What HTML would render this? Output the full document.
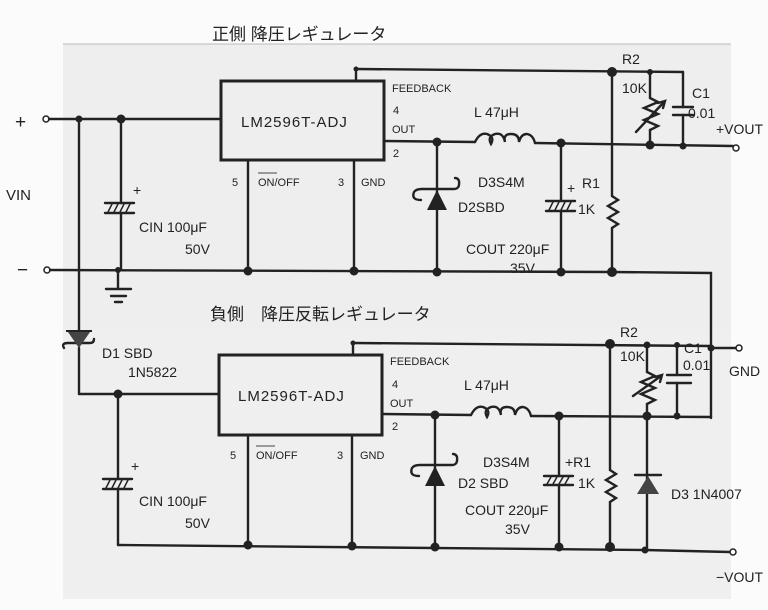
<!DOCTYPE html>
<html><head><meta charset="utf-8">
<style>
html,body{margin:0;padding:0;background:#fff;}
svg{display:block;}
text{font-family:"Liberation Sans","Noto Sans CJK JP",sans-serif;fill:#222;}
</style></head><body>
<svg width="768" height="610" viewBox="0 0 768 610" xmlns="http://www.w3.org/2000/svg">
<rect x="0" y="0" width="768" height="610" fill="#fbfbfb"/>
<rect x="63" y="44" width="668" height="285" fill="#eeeeee"/>
<rect x="63" y="329" width="668" height="270" fill="#efefef"/>
<line x1="63" y1="44" x2="731" y2="44" stroke="#bbb" stroke-width="1"/>

<g stroke="#222" stroke-width="2.4" fill="none" stroke-linecap="round">
<!-- TOP -->
<circle cx="46" cy="119" r="3" stroke-width="1.5" fill="#fff"/>
<line x1="49" y1="119" x2="220" y2="119"/>
<line x1="79" y1="119" x2="79" y2="336"/>
<line x1="121" y1="119" x2="121" y2="203"/>
<line x1="121" y1="213" x2="121" y2="270"/>
<line x1="105" y1="203" x2="134" y2="203"/><line x1="105" y1="213" x2="134" y2="213"/>
<line x1="108" y1="212" x2="112" y2="204" stroke-width="1.5"/><line x1="114" y1="212" x2="118" y2="204" stroke-width="1.5"/><line x1="120" y1="212" x2="124" y2="204" stroke-width="1.5"/><line x1="126" y1="212" x2="130" y2="204" stroke-width="1.5"/>
<circle cx="47" cy="270" r="3" stroke-width="1.5" fill="#fff"/>
<line x1="50" y1="270" x2="612" y2="272"/>
<line x1="612" y1="272" x2="711" y2="273"/>
<line x1="711" y1="273" x2="711" y2="418"/>
<line x1="118" y1="270" x2="118" y2="288"/>
<line x1="106" y1="289" x2="131" y2="289"/><line x1="111" y1="296" x2="126" y2="296"/><line x1="115" y1="302" x2="122" y2="302"/>
<rect x="221" y="81" width="163" height="79" stroke-width="3"/>
<line x1="356" y1="81" x2="356" y2="68"/>
<line x1="356" y1="69" x2="683" y2="72"/>
<line x1="683" y1="72" x2="683" y2="107"/><line x1="683" y1="115" x2="683" y2="146"/>
<line x1="673" y1="107" x2="693" y2="107"/><line x1="673" y1="115" x2="693" y2="115"/>
<line x1="384" y1="141" x2="475" y2="142"/>
<path d="M475 142 q5 -10 12 -8 q8 3 4 10 q-4 -7 4 -10 q8 -2 10 8 q-2 -8 6 -8 q8 0 8 8 q2 -8 8 -8 q6 1 8 9"/>
<line x1="535" y1="143" x2="733" y2="146"/>
<circle cx="736" cy="148" r="3" stroke-width="1.5" fill="#fff"/>
<line x1="248" y1="160" x2="248" y2="271"/>
<line x1="354" y1="160" x2="354" y2="271"/>
<line x1="437" y1="142" x2="437" y2="272"/>
<path d="M421 200 q-10 0 -7 -8 q2 -3 8 -3 l32 0 q6 0 5 -8 q-1 -3 -4 -3"/>
<line x1="561" y1="143" x2="561" y2="201"/><line x1="561" y1="211" x2="561" y2="272"/>
<line x1="546" y1="201" x2="575" y2="201"/><line x1="546" y1="211" x2="575" y2="211"/>
<line x1="549" y1="210" x2="553" y2="202" stroke-width="1.5"/><line x1="555" y1="210" x2="559" y2="202" stroke-width="1.5"/><line x1="561" y1="210" x2="565" y2="202" stroke-width="1.5"/><line x1="567" y1="210" x2="571" y2="202" stroke-width="1.5"/>
<line x1="612" y1="72" x2="612" y2="196"/>
<path d="M612 196 l6 4 l-10 6 l10 6 l-10 6 l10 6 l-6 4"/>
<line x1="612" y1="228" x2="612" y2="272"/>
<line x1="650" y1="72" x2="650" y2="98"/>
<path d="M650 98 l8 4 l-14 6 l14 6 l-14 6 l14 6 l-8 4"/>
<line x1="650" y1="130" x2="650" y2="145"/>
<line x1="636" y1="132" x2="664" y2="102"/>
<path d="M658 103 l7 -2 l-2 7"/>

<!-- BOTTOM -->
<line x1="79" y1="348" x2="79" y2="394"/>
<line x1="79" y1="394" x2="218" y2="394"/>
<line x1="118" y1="394" x2="118" y2="479"/><line x1="118" y1="489" x2="118" y2="545"/>
<line x1="103" y1="479" x2="132" y2="479"/><line x1="103" y1="489" x2="132" y2="489"/>
<line x1="106" y1="488" x2="110" y2="480" stroke-width="1.5"/><line x1="112" y1="488" x2="116" y2="480" stroke-width="1.5"/><line x1="118" y1="488" x2="122" y2="480" stroke-width="1.5"/><line x1="124" y1="488" x2="128" y2="480" stroke-width="1.5"/>
<path d="M64 348 q-3 -5 4 -5 l22 0 q4 0 4 -4"/>
<line x1="118" y1="545" x2="645" y2="550"/>
<line x1="645" y1="550" x2="730" y2="552"/>
<circle cx="733" cy="552" r="3" stroke-width="1.5" fill="#fff"/>
<rect x="219" y="355" width="163" height="80" stroke-width="3"/>
<line x1="353" y1="355" x2="353" y2="343"/>
<line x1="353" y1="343" x2="711" y2="346"/>
<line x1="711" y1="348" x2="736" y2="348"/>
<circle cx="739" cy="348" r="3" stroke-width="1.5" fill="#fff"/>
<line x1="677" y1="345" x2="677" y2="375"/><line x1="677" y1="383" x2="677" y2="416"/>
<line x1="667" y1="375" x2="691" y2="375"/><line x1="667" y1="383" x2="691" y2="383"/>
<line x1="382" y1="414" x2="471" y2="415"/>
<path d="M471 415 q5 -10 12 -8 q8 3 4 10 q-4 -7 4 -10 q8 -2 10 8 q-2 -8 6 -8 q8 0 8 8 q2 -8 8 -8 q6 1 8 9"/>
<line x1="531" y1="416" x2="711" y2="417"/>
<line x1="248" y1="435" x2="248" y2="545"/>
<line x1="352" y1="435" x2="352" y2="546"/>
<line x1="435" y1="415" x2="435" y2="547"/>
<path d="M419 476 q-10 0 -7 -8 q2 -3 8 -3 l32 0 q6 0 5 -8 q-1 -3 -4 -3"/>
<line x1="559" y1="416" x2="559" y2="476"/><line x1="559" y1="485" x2="559" y2="547"/>
<line x1="544" y1="476" x2="573" y2="476"/><line x1="544" y1="485" x2="573" y2="485"/>
<line x1="547" y1="484" x2="551" y2="477" stroke-width="1.5"/><line x1="553" y1="484" x2="557" y2="477" stroke-width="1.5"/><line x1="559" y1="484" x2="563" y2="477" stroke-width="1.5"/><line x1="565" y1="484" x2="569" y2="477" stroke-width="1.5"/>
<line x1="610" y1="345" x2="610" y2="470"/>
<path d="M610 470 l6 4 l-10 6 l10 6 l-10 6 l10 6 l-6 4"/>
<line x1="610" y1="502" x2="610" y2="547"/>
<line x1="647" y1="345" x2="647" y2="372"/>
<path d="M647 372 l8 4 l-14 6 l14 6 l-14 6 l14 6 l-8 4"/>
<line x1="647" y1="404" x2="647" y2="416"/>
<line x1="633" y1="396" x2="661" y2="376"/>
<path d="M655 377 l7 -2 l-2 7"/>
<line x1="647" y1="416" x2="647" y2="550"/>
<line x1="635" y1="475" x2="661" y2="475"/>
</g>

<g fill="#222">
<polygon points="427,210 447,210 437,190"/>
<polygon points="425,486 445,486 435,466"/>
<polygon points="637,494 659,494 648,476" fill="#444"/>
<polygon points="68,332 90,332 79,348" fill="#444"/>
<line x1="66" y1="331" x2="92" y2="331" stroke="#222" stroke-width="2"/>
<circle cx="79" cy="119" r="3.5"/><circle cx="121" cy="119" r="4.5"/>
<circle cx="118" cy="270" r="3"/><circle cx="248" cy="271" r="4.5"/><circle cx="354" cy="271" r="4.5"/>
<circle cx="437" cy="142" r="4.5"/><circle cx="561" cy="143" r="4.5"/>
<circle cx="437" cy="272" r="4.5"/><circle cx="561" cy="272" r="4.5"/><circle cx="612" cy="272" r="5"/>
<circle cx="612" cy="72" r="5"/><circle cx="650" cy="72" r="3"/><circle cx="650" cy="145" r="4.5"/><circle cx="683" cy="146" r="3.5"/>
<circle cx="356" cy="69" r="2.5"/><circle cx="353" cy="343" r="2.5"/>
<circle cx="118" cy="394" r="4.5"/>
<circle cx="248" cy="545" r="4.5"/><circle cx="352" cy="546" r="4.5"/>
<circle cx="435" cy="415" r="4.5"/><circle cx="559" cy="416" r="4.5"/>
<circle cx="435" cy="547" r="4.5"/><circle cx="559" cy="547" r="4.5"/><circle cx="610" cy="547" r="5"/><circle cx="645" cy="550" r="3.5"/>
<circle cx="610" cy="344" r="5"/><circle cx="647" cy="345" r="3.5"/><circle cx="677" cy="345" r="3"/><circle cx="711" cy="348" r="3.5"/>
<circle cx="647" cy="416" r="4.5"/><circle cx="677" cy="416" r="3.5"/>
</g>

<text x="212" y="40" font-size="17">正側 降圧レギュレータ</text>
<text x="210" y="320" font-size="17">負側　降圧反転レギュレータ</text>
<text x="15" y="128" font-size="19">+</text>
<text x="17" y="276" font-size="19">−</text>
<text x="6" y="200" font-size="15">VIN</text>
<text x="241" y="127" font-size="15" letter-spacing="1">LM2596T-ADJ</text>
<text x="238" y="401" font-size="15" letter-spacing="1">LM2596T-ADJ</text>
<g font-size="11" fill="#444">
<text x="392" y="92">FEEDBACK</text><text x="393" y="114">4</text><text x="392" y="133">OUT</text><text x="393" y="157">2</text>
<text x="232" y="186">5</text><text x="258" y="186">ON/OFF</text><text x="338" y="186">3</text><text x="361" y="186">GND</text>
<text x="390" y="365">FEEDBACK</text><text x="392" y="388">4</text><text x="390" y="407">OUT</text><text x="392" y="430">2</text>
<text x="230" y="459">5</text><text x="256" y="459">ON/OFF</text><text x="337" y="459">3</text><text x="360" y="459">GND</text>
</g>
<line x1="258" y1="173" x2="277" y2="173" stroke="#444" stroke-width="1"/>
<line x1="256" y1="446" x2="275" y2="446" stroke="#444" stroke-width="1"/>
<g font-size="14">
<text x="133" y="195">+</text>
<text x="139" y="232">CIN 100μF</text><text x="185" y="254">50V</text>
<text x="474" y="117">L 47μH</text>
<text x="478" y="187">D3S4M</text><text x="458" y="212">D2SBD</text>
<text x="567" y="193">+</text><text x="582" y="188">R1</text><text x="578" y="214">1K</text>
<text x="466" y="254">COUT 220μF</text><text x="510" y="273">35V</text>
<text x="622" y="64">R2</text><text x="622" y="93">10K</text>
<text x="692" y="98">C1</text><text x="688" y="118">0.01</text>
<text x="716" y="134">+VOUT</text>
<text x="102" y="358">D1 SBD</text><text x="128" y="377">1N5822</text>
<text x="131" y="471">+</text>
<text x="139" y="506">CIN 100μF</text><text x="185" y="528">50V</text>
<text x="464" y="390">L 47μH</text>
<text x="483" y="467">D3S4M</text><text x="458" y="488">D2 SBD</text>
<text x="565" y="467">+R1</text><text x="578" y="488">1K</text>
<text x="465" y="515">COUT 220μF</text><text x="505" y="534">35V</text>
<text x="620" y="337">R2</text><text x="620" y="361">10K</text>
<text x="684" y="353">C1</text><text x="683" y="370">0.01</text>
<text x="729" y="376">GND</text>
<text x="671" y="499">D3 1N4007</text>
<text x="716" y="582">−VOUT</text>
</g>
</svg>
</body></html>
